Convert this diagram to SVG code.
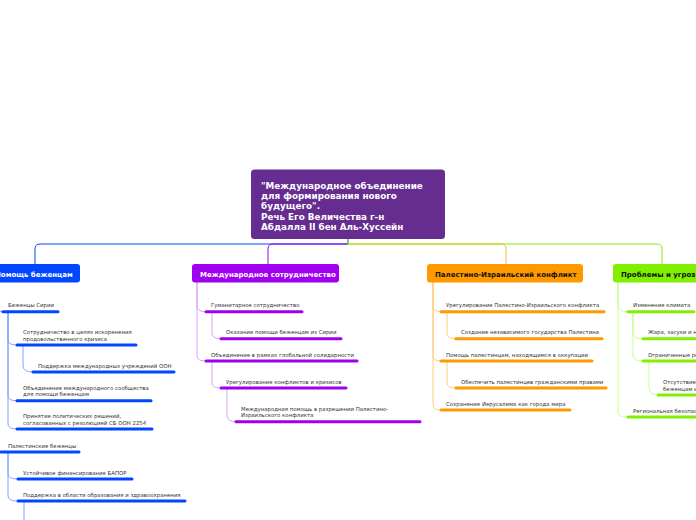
<svg xmlns="http://www.w3.org/2000/svg" width="696" height="520" viewBox="0 0 696 520">
<style>
.t{font-family:"DejaVu Sans",Verdana,sans-serif;font-size:5.4px;fill:#333}
.h{font-family:"DejaVu Sans",Verdana,sans-serif;font-size:7px;font-weight:bold}
.m{font-family:"DejaVu Sans",Verdana,sans-serif;font-size:8.8px;font-weight:bold;fill:#fff}
.u{fill:none;stroke-width:3;stroke-linecap:round}
.c{fill:none;stroke-width:1}
.ub{stroke:#0047ff}.up{stroke:#a000f0}.uo{stroke:#ff9900}.ug{stroke:#80f000}
.cb{stroke:#80a4ff}.cp{stroke:#d8a0ff}.co{stroke:#ffcc80}.cg{stroke:#c4ff90}
</style>
<rect width="696" height="520" fill="#fff"/>
<g id="connectors">
<path class="c" stroke="#0047ff" d="M348,239V244H40Q35,244 35,249V264"/>
<path class="c" stroke="#ffb040" d="M348,244H501Q506,244 506,249V264"/>
<path class="c" stroke="#a000f0" d="M348,244H273Q268,244 268,249V264"/>
<path class="c" stroke="#80f000" d="M348,239V244H657Q662,244 662,249V264"/>
<path class="c cb" d="M-4,282V306Q-4,311.7 3,311.7"/>
<path class="c cb" d="M-4,282V447Q-4,452 1,452"/>
<path class="c cb" d="M8,311.7V340Q8,345 17,345"/>
<path class="c cb" d="M8,311.7V396Q8,400.7 17,400.7"/>
<path class="c cb" d="M8,311.7V424Q8,429 17,429"/>
<path class="c cb" d="M23,345V366Q23,372 33,372"/>
<path class="c cb" d="M8,452V474Q8,479 18,479"/>
<path class="c cb" d="M8,452V496Q8,501 18,501"/>
<path class="c cb" d="M24,501V520"/>
<path class="c cp" d="M197,282V306Q197,311.7 206,311.7"/>
<path class="c cp" d="M197,282V356Q197,361 206,361"/>
<path class="c cp" d="M212,311.7V333Q212,338.7 221,338.7"/>
<path class="c cp" d="M212,361V383Q212,388 221,388"/>
<path class="c cp" d="M227,388V415Q227,421.7 236,421.7"/>
<path class="c co" d="M433,282V306Q433,311.7 441,311.7"/>
<path class="c co" d="M433,282V356Q433,361 441,361"/>
<path class="c co" d="M433,282V405Q433,410 441,410"/>
<path class="c co" d="M447,311.7V333Q447,338.7 456,338.7"/>
<path class="c co" d="M447,361V383Q447,388 456,388"/>
<path class="c cg" d="M618,282V306Q618,311.7 628,311.7"/>
<path class="c cg" d="M618,282V412Q618,417 628,417"/>
<path class="c cg" d="M633,311.7V333Q633,338.7 643,338.7"/>
<path class="c cg" d="M633,311.7V356Q633,361 643,361"/>
<path class="c cg" d="M649,361V388Q649,395 658,395"/>
</g>
<g id="center">
<rect x="251" y="169.5" width="194" height="69.5" rx="3.5" fill="#662d91"/>
<text class="m" x="261" y="188.5">"Международное объединение</text>
<text class="m" x="261" y="198.9">для формирования нового</text>
<text class="m" x="261" y="209.3">будущего".</text>
<text class="m" x="261" y="219.7">Речь Его Величества г-н</text>
<text class="m" x="261" y="230.1">Абдалла II бен Аль-Хуссейн</text>
</g>
<g id="n-help">
<rect x="-12" y="264" width="92" height="18.5" rx="3" fill="#0047ff"/>
<text class="h" x="-5" y="276.5" fill="#fff">Помощь беженцам</text>
</g>
<g id="n-syria"><text class="t" x="8" y="307.2">Беженцы Сирии</text><path class="u ub" d="M3,311.7H58"/></g>
<g id="n-food"><text class="t" x="23" y="333.9">Сотрудничество в целях искоренения</text><text class="t" x="23" y="340.5">продовольственного кризиса</text><path class="u ub" d="M17,345H136"/></g>
<g id="n-un"><text class="t" x="38" y="367.5">Поддержка международных учреждений ООН</text><path class="u ub" d="M33,372H174"/></g>
<g id="n-unite"><text class="t" x="23" y="389.6">Объединение международного сообщества</text><text class="t" x="23" y="396.2">для помощи беженцам</text><path class="u ub" d="M17,400.7H151"/></g>
<g id="n-pol"><text class="t" x="23" y="417.9">Принятие политических решений,</text><text class="t" x="23" y="424.5">согласованных с резолюцией СБ ООН 2254</text><path class="u ub" d="M17,429H152"/></g>
<g id="n-pal"><text class="t" x="8" y="447.5">Палестинские беженцы</text><path class="u ub" d="M1,452H79"/></g>
<g id="n-unrwa"><text class="t" x="23" y="474.5">Устойчивое финансирование БАПОР</text><path class="u ub" d="M18,479H132"/></g>
<g id="n-edu"><text class="t" x="23" y="496.5">Поддержка в области образования и здравоохранения</text><path class="u ub" d="M18,501H185"/></g>
<g id="n-coop">
<rect x="192" y="264" width="147" height="18.5" rx="3" fill="#a000f0"/>
<text class="h" x="200" y="276.5" fill="#fff">Международное сотрудничество</text>
</g>
<g id="n-hum"><text class="t" x="211" y="307.2">Гуманитарное сотрудничество</text><path class="u up" d="M206,311.7H302"/></g>
<g id="n-aid"><text class="t" x="226" y="334.2">Оказание помощи беженцам из Сирии</text><path class="u up" d="M221,338.7H341"/></g>
<g id="n-glob"><text class="t" x="211" y="356.5">Объединение в рамках глобальной солидарности</text><path class="u up" d="M206,361H357"/></g>
<g id="n-conf"><text class="t" x="226" y="383.5">Урегулирование конфликтов и кризисов</text><path class="u up" d="M221,388H346"/></g>
<g id="n-intl"><text class="t" x="241" y="410.6">Международная помощь в разрешении Палестино-</text><text class="t" x="241" y="417.2">Израильского конфликта</text><path class="u up" d="M236,421.7H420"/></g>
<g id="n-pic">
<rect x="427" y="264" width="156" height="18.5" rx="3" fill="#ff9900"/>
<text class="h" x="435" y="276.5" fill="#111">Палестино-Израильский конфликт</text>
</g>
<g id="n-settle"><text class="t" x="446" y="307.2">Урегулирование Палестино-Израильского конфликта</text><path class="u uo" d="M441,311.7H604"/></g>
<g id="n-state"><text class="t" x="461" y="334.2">Создание независимого государства Палестина</text><path class="u uo" d="M456,338.7H602"/></g>
<g id="n-occ"><text class="t" x="446" y="356.5">Помощь палестинцам, находящимся в оккупации</text><path class="u uo" d="M441,361H592"/></g>
<g id="n-rights"><text class="t" x="461" y="383.5">Обеспечить палестинцев гражданскими правами</text><path class="u uo" d="M456,388H606"/></g>
<g id="n-jer"><text class="t" x="446" y="405.5">Сохранение Иерусалима как города мира</text><path class="u uo" d="M441,410H570"/></g>
<g id="n-prob">
<rect x="613" y="264" width="110" height="18.5" rx="3" fill="#80f000"/>
<text class="h" x="621" y="276.5" fill="#111">Проблемы и угрозы</text>
</g>
<g id="n-clim"><text class="t" x="633" y="307.2">Изменение климата</text><path class="u ug" d="M628,311.7H694"/></g>
<g id="n-heat"><text class="t" x="648" y="334.2">Жара, засухи и наводнения</text><path class="u ug" d="M643,338.7H720"/></g>
<g id="n-res"><text class="t" x="648" y="356.5">Ограниченные ресурсы</text><path class="u ug" d="M643,361H720"/></g>
<g id="n-lack"><text class="t" x="663" y="383.9">Отсутствие помощи</text><text class="t" x="663" y="390.5">беженцам и странам</text><path class="u ug" d="M658,395H720"/></g>
<g id="n-sec"><text class="t" x="633" y="412.5">Региональная безопасность</text><path class="u ug" d="M628,417H720"/></g>
</svg>
